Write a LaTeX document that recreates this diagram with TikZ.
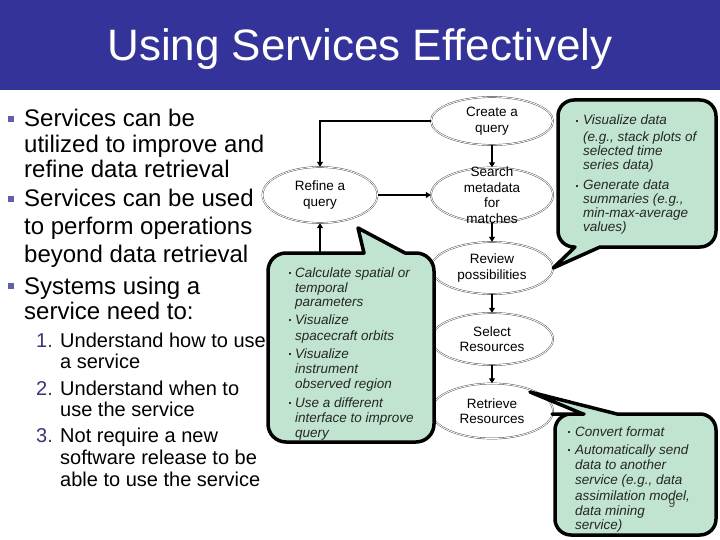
\documentclass[tikz,border=0pt]{standalone}
\usepackage{fontspec}
\setmainfont{Liberation Sans}
\usetikzlibrary{arrows.meta,shapes.geometric}
\definecolor{titlebar}{RGB}{51,51,153}
\definecolor{callfill}{RGB}{192,228,208}
\definecolor{bulletblue}{RGB}{95,95,170}
\definecolor{numblue}{RGB}{55,55,115}
\tikzset{
 ell/.style={ellipse, draw=black!75, double=white, double distance=0.9pt, fill=white, inner sep=0pt, minimum width=122pt, line width=0.4pt},
 etext/.style={align=center, font=\fontsize{13.5}{15.5}\selectfont, inner sep=0pt},
 arr/.style={line width=2pt, -{Triangle[length=5pt,width=6pt]}},
 callout/.style={line width=3.5pt, draw=black, fill=callfill, line join=round},
 main/.style={anchor=base west, inner sep=0pt, font=\fontsize{24}{26}\selectfont},
 sub/.style={anchor=base west, inner sep=0pt, font=\fontsize{20}{22}\selectfont},
 num/.style={anchor=base west, inner sep=0pt, font=\fontsize{20}{22}\selectfont, text=numblue},
 ctext/.style={anchor=base west, inner sep=0pt, font=\fontsize{13.5}{15}\selectfont\itshape, text=black!85},
 cbul/.style={anchor=center, inner sep=0pt, text=black!80},
 mbul/.style={anchor=center, inner sep=0pt, text=bulletblue},
}
\begin{document}
\begin{tikzpicture}[x=1pt,y=-1pt]
\clip (0,0) rectangle (720,540);
\fill[white] (0,0) rectangle (720,540);
% title
\fill[titlebar] (0,0) rectangle (720,90);
\node[anchor=base, inner sep=0pt, text=white, font=\fontsize{44}{48}\selectfont] (title) at (360,61) {Using Services Effectively};

% left text
\node[mbul] (b1) at (10.5,119) {\rule{6pt}{6pt}};
\node[main] (m1) at (24,127) {Services can be};
\node[main] (m2) at (24,153) {utilized to improve and};
\node[main] (m3) at (24,178) {refine data retrieval};
\node[mbul] (b2) at (10.5,199) {\rule{6pt}{6pt}};
\node[main] (m4) at (24,207) {Services can be used};
\node[main] (m5) at (24,235) {to perform operations};
\node[main] (m6) at (24,262) {beyond data retrieval};
\node[mbul] (b3) at (10.5,286) {\rule{6pt}{6pt}};
\node[main] (m7) at (24,294) {Systems using a};
\node[main] (m8) at (24,319) {service need to:};
\node[num] (n1) at (36,347) {1.};
\node[sub] (s1) at (60,347) {Understand how to use};
\node[sub] (s2) at (60,368) {a service};
\node[num] (n2) at (36,395) {2.};
\node[sub] (s3) at (60,395) {Understand when to};
\node[sub] (s4) at (60,416) {use the service};
\node[num] (n3) at (36,442) {3.};
\node[sub] (s5) at (60,442) {Not require a new};
\node[sub] (s6) at (60,464) {software release to be};
\node[sub] (s7) at (60,486) {able to use the service};

% ellipses
\node[ell, minimum width=115pt, minimum height=56pt] (refine) at (320,195) {};
\node[etext] (refinet) at (refine) {Refine a\\query};
\node[ell, minimum height=48pt] (create) at (492,121) {};
\node[etext] (createt) at (create) {Create a\\query};
\node[ell, minimum height=55pt] (search) at (492,195) {};
\node[etext] (searcht) at (search) {Search\\metadata\\for\\matches};
\node[ell, minimum height=52pt] (review) at (492,268) {};
\node[etext] (reviewt) at (review) {Review\\possibilities};
\node[ell, minimum height=52pt] (select) at (492,339) {};
\node[etext] (selectt) at (select) {Select\\Resources};
\node[ell, minimum height=55pt] (retrieve) at (492,411) {};
\node[etext] (retrievet) at (retrieve) {Retrieve\\Resources};

% connectors
\draw[arr] (create.west) -| (refine.north);
\draw[arr] (refine.east) -- (search.west);
\draw[arr] (create) -- (search);
\draw[arr] (search) -- (review);
\draw[arr] (review) -- (select);
\draw[arr] (select) -- (retrieve);

% callout 1
\draw[callout] (364,253) -- (358,228) -- (405,253) [rounded corners=18pt] -- (434,253) -- (434,442) -- (268,442) -- (268,253) -- (330,253) [sharp corners] -- cycle;
\coordinate (c1top) at (320,253);
\draw[arr] (c1top) -- (refine.south);
\node[cbul] (u1) at (290,273) {\rule{2.6pt}{2.6pt}};
\node[ctext] (a1) at (295,277) {Calculate spatial or};
\node[ctext] (a2) at (295,292) {temporal};
\node[ctext] (a3) at (295,306) {parameters};
\node[cbul] (u2) at (290,320) {\rule{2.6pt}{2.6pt}};
\node[ctext] (a4) at (295,324) {Visualize};
\node[ctext] (a5) at (295,340) {spacecraft orbits};
\node[cbul] (u3) at (290,354) {\rule{2.6pt}{2.6pt}};
\node[ctext] (a6) at (295,358) {Visualize};
\node[ctext] (a7) at (295,373) {instrument};
\node[ctext] (a8) at (295,388) {observed region};
\node[cbul] (u4) at (290,403) {\rule{2.6pt}{2.6pt}};
\node[ctext] (a9) at (295,407) {Use a different};
\node[ctext] (a10) at (295,422) {interface to improve};
\node[ctext] (a11) at (295,437) {query};

% callout 2
\draw[callout] (600,247) -- (review.east) -- (575,247) [rounded corners=16pt] -- (558,247) -- (558,100) -- (716,100) -- (716,247) -- (650,247) [sharp corners] -- cycle;
\node[cbul] (v1) at (577,121) {\rule{2.6pt}{2.6pt}};
\node[ctext] (d1) at (583,125) {Visualize data};
\node[ctext] (d2) at (583,142) {(e.g., stack plots of};
\node[ctext] (d3) at (583,156) {selected time};
\node[ctext] (d4) at (583,170) {series data)};
\node[cbul] (v2) at (577,186) {\rule{2.6pt}{2.6pt}};
\node[ctext] (d5) at (583,190) {Generate data};
\node[ctext] (d6) at (583,204) {summaries (e.g.,};
\node[ctext] (d7) at (583,218) {min-max-average};
\node[ctext] (d8) at (583,232) {values)};

% callout 3
\coordinate (c3tip) at (530,392);
\draw[callout] (583,414) -- (c3tip) -- (617,414) [rounded corners=16pt] -- (716,414) -- (716,535) -- (555,535) -- (555,414) -- (568,414) [sharp corners] -- cycle;
\node[cbul] (w1) at (569,432) {\rule{2.6pt}{2.6pt}};
\node[ctext] (e1) at (575,436) {Convert format};
\node[cbul] (w2) at (569,450) {\rule{2.6pt}{2.6pt}};
\node[ctext] (e2) at (575,454) {Automatically send};
\node[ctext] (e3) at (575,469) {data to another};
\node[ctext] (e4) at (575,484) {service (e.g., data};
\node[ctext] (e5) at (575,500) {assimilation model,};
\node[ctext] (e6) at (575,515) {data mining};
\node[ctext] (e7) at (575,529) {service)};
\node[inner sep=0pt, font=\fontsize{12}{12}\selectfont, text=black!75] (pagenum) at (672,503) {9};
\end{tikzpicture}
\end{document}
